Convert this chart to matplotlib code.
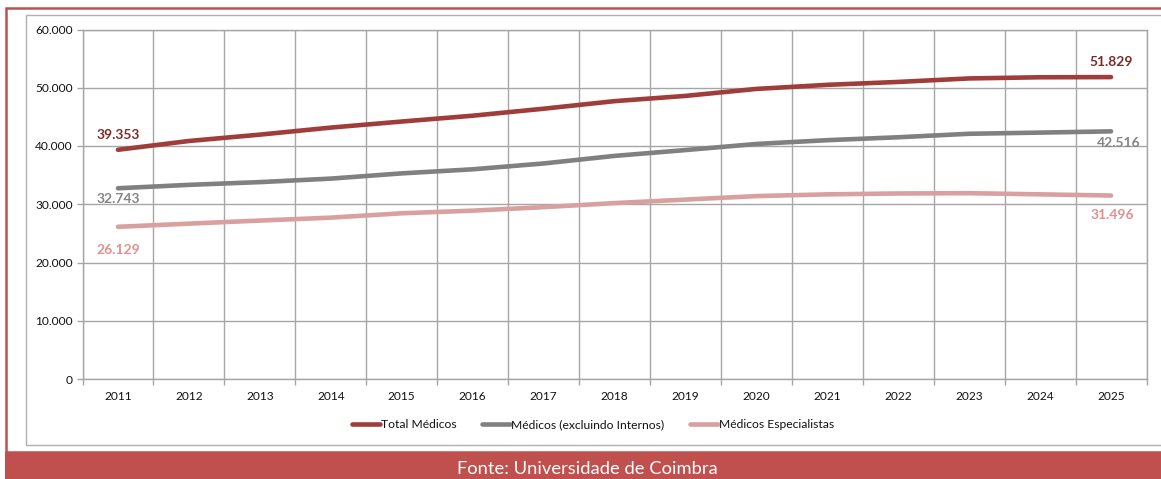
import matplotlib
matplotlib.use("Agg")
import matplotlib.pyplot as plt
from matplotlib.patches import Rectangle
from matplotlib.ticker import FixedLocator, FuncFormatter

plt.rcParams['font.family'] = ['Lato', 'DejaVu Sans']

years = list(range(2011, 2026))
total_medicos = [39353, 40860, 41950, 43160, 44200, 45200, 46400, 47700,
                 48600, 49800, 50500, 51000, 51600, 51800, 51829]
medicos_sem_internos = [32743, 33330, 33800, 34400, 35300, 36000, 37000, 38300,
                        39300, 40350, 41000, 41500, 42100, 42300, 42516]
medicos_especialistas = [26129, 26670, 27200, 27700, 28450, 28900, 29500, 30200,
                         30800, 31400, 31700, 31850, 31900, 31700, 31496]
series_names = ["Total Médicos", "Médicos (excluindo Internos)", "Médicos Especialistas"]
source_text = "Fonte: Universidade de Coimbra"

W, H = 1161, 479
fig = plt.figure(figsize=(W / 100, H / 100), dpi=100)
fig.patch.set_facecolor("white")

RED = "#c0504d"
GRID = "#a6a6a6"

# outer red frame and source band
fig.add_artist(Rectangle((6 / W, 1 - 452 / H), (W + 20) / W, (452 - 7.5) / H,
                         transform=fig.transFigure, fill=False,
                         edgecolor=RED, linewidth=1.8))
fig.add_artist(Rectangle((5 / W, 0), 1, (479 - 452) / H,
                         transform=fig.transFigure, facecolor=RED,
                         edgecolor="none"))
fig.text(587 / W, 1 - 469 / H, source_text, color="white", fontsize=13.2,
         ha="center", va="center", fontweight="normal")
# chart area border
fig.add_artist(Rectangle((25.5 / W, 1 - 444.5 / H), (W + 20) / W, (444.5 - 15) / H,
                         transform=fig.transFigure, fill=False,
                         edgecolor="#b0b0b0", linewidth=1.0))

ax = fig.add_axes([82.5 / W, 1 - 379 / H, (1146.5 - 82.5) / W, (379 - 29.5) / H])
ax.set_xlim(2010.5, 2025.5)
ax.set_ylim(0, 60000)

colors = ["#a03c3a", "#808080", "#d9a09f"]
label_colors = ["#7b2b2a", "#858585", "#e0918f"]
data = [total_medicos, medicos_sem_internos, medicos_especialistas]
for vals, c, name in zip(data, colors, series_names):
    ax.plot(years, vals, color=c, lw=3.3, solid_capstyle="round",
            solid_joinstyle="round", label=name, zorder=3)

# start / end value labels
start_offsets = [15, -11, -23]
end_offsets = [(0, 15), (8, -12), (1, -19)]
for vals, lc, so, eo in zip(data, label_colors, start_offsets, end_offsets):
    ax.annotate(f"{vals[0] / 1000:.3f}", (years[0], vals[0]),
                xytext=(0, so * 0.72), textcoords="offset points",
                ha="center", va="center", fontsize=10, fontweight="bold",
                color=lc, zorder=4)
    ax.annotate(f"{vals[-1] / 1000:.3f}", (years[-1], vals[-1]),
                xytext=(eo[0] * 0.72, eo[1] * 0.72), textcoords="offset points",
                ha="center", va="center", fontsize=10, fontweight="bold",
                color=lc, zorder=4)

# grid and ticks
ax.xaxis.set_major_locator(FixedLocator([y - 0.5 for y in years] + [years[-1] + 0.5]))
ax.xaxis.set_minor_locator(FixedLocator(years))
ax.xaxis.set_major_formatter(FuncFormatter(lambda v, p: ""))
ax.xaxis.set_minor_formatter(FuncFormatter(lambda v, p: f"{int(round(v))}"))
ax.tick_params(axis="x", which="major", direction="out", length=4, color=GRID, width=1)
ax.tick_params(axis="x", which="minor", length=0, pad=9, labelsize=8.6, labelcolor="#111111")

ax.set_yticks(range(0, 60001, 10000))
ax.yaxis.set_major_formatter(FuncFormatter(
    lambda v, p: "0" if v == 0 else f"{int(v):,}".replace(",", ".")))
ax.tick_params(axis="y", direction="out", length=4, color=GRID, width=1, pad=3,
               labelsize=8.6, labelcolor="#111111")

ax.grid(True, which="major", color=GRID, lw=1.0, zorder=0)
ax.set_axisbelow(True)
for s in ax.spines.values():
    s.set_color(GRID)
    s.set_linewidth(1.0)

fig.legend(loc="center", bbox_to_anchor=(593 / W, 1 - 425 / H), ncol=3,
           frameon=False, fontsize=8.7, handlelength=2.3, handletextpad=0.12,
           columnspacing=2.1, labelcolor="#111111")

fig.savefig("out.png", dpi=100)
